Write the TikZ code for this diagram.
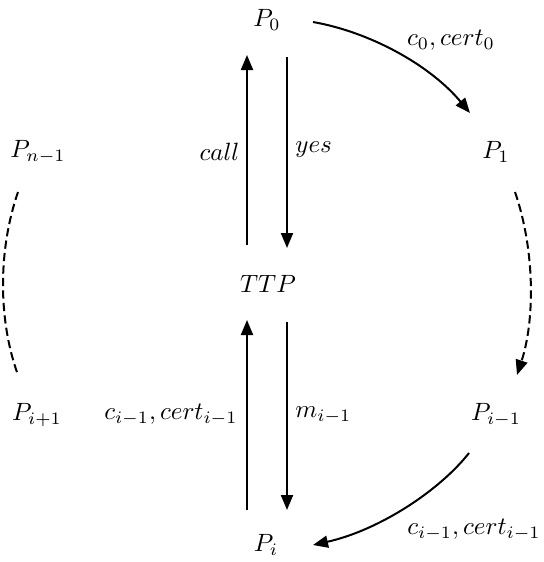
\documentclass[tikz,border=0pt]{standalone}
\usetikzlibrary{arrows.meta,calc}
\begin{document}
\begin{tikzpicture}[x=0.40pt,y=-0.40pt,
  lbl/.style={inner sep=0pt},
  party/.style={inner sep=0pt},
  arr/.style={line width=0.8pt,-{Triangle[length=6pt,width=4.8pt]}},
  dashline/.style={line width=0.8pt,dash pattern=on 3.3pt off 1.7pt}]
\useasboundingbox (0,0) rectangle (544,562);
\node[party] (P0) at (267,20) {$P_0$};
\node[party] (P1) at (496,152) {$P_1$};
\node[party] (Pn) at (38,152) {$P_{n-1}$};
\node[party] (TTP) at (268,284) {$TTP$};
\node[party] (Pip) at (37,415) {$P_{i+1}$};
\node[party] (Pim) at (496,415) {$P_{i-1}$};
\node[party] (Pi) at (266,545) {$P_i$};
% vertical arrows
\draw[arr] ($(TTP)+(-21,-39)$) -- ($(P0)+(-20,35)$);
\draw[arr] ($(P0)+(20,37)$) -- ($(TTP)+(19,-36)$);
\draw[arr] ($(Pi)+(-19,-35)$) -- ($(TTP)+(-21,36)$);
\draw[arr] ($(TTP)+(19,38)$) -- ($(Pi)+(21,-35)$);
\node[lbl,anchor=east] (lcall) at (240,152) {$call$};
\node[lbl,anchor=west] (lyes) at (295,150) {$yes$};
\node[lbl,anchor=east] (lc) at (238,415) {$c_{i-1}, cert_{i-1}$};
\node[lbl,anchor=west] (lm) at (295,415) {$m_{i-1}$};
% curved arrows
\draw[arr] ($(P0)+(46,2)$) .. controls (370,32) and (430,65) .. ($(P1)+(-26,-39)$);
\node[lbl] (lc0) at (451,40) {$c_0, cert_0$};
\draw[arr] ($(Pim)+(-27,38)$) .. controls (440,490) and (380,530) .. ($(Pi)+(47,0)$);
\node[lbl] (lci) at (474,530) {$c_{i-1}, cert_{i-1}$};
% dashed
\draw[dashline,-{Triangle[length=6pt,width=4.8pt]}] ($(P1)+(19,40)$) .. controls (535,250) and (535,320) .. ($(Pim)+(21,-40)$);
\draw[dashline] ($(Pn)+(-20,40)$) .. controls (-2,250) and (-2,320) .. ($(Pip)+(-19,-40)$);
\end{tikzpicture}
\end{document}
